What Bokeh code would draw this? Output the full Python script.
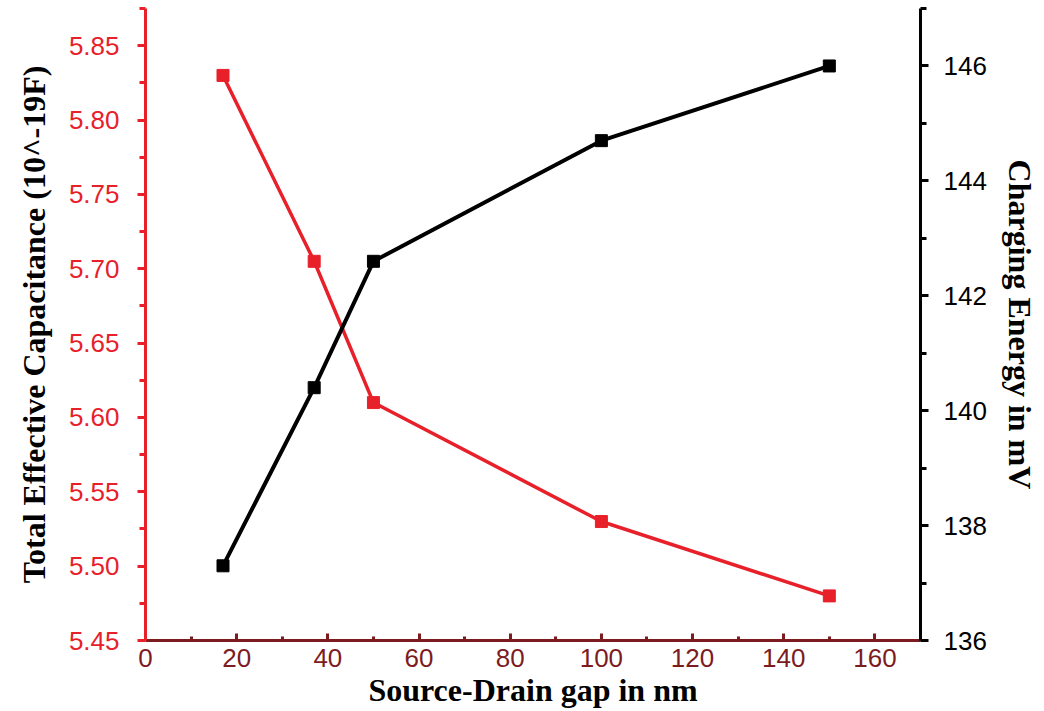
from bokeh.plotting import figure
from bokeh.models import LinearAxis, Range1d, FixedTicker, PrintfTickFormatter
from bokeh.embed import file_html
from bokeh.resources import INLINE

# Source-drain gap (nm)
gap_nm = [17, 37, 50, 100, 150]
# Total effective capacitance (10^-19 F)
capacitance = [5.83, 5.705, 5.61, 5.53, 5.48]
# Charging energy (mV)
charging_mv = [137.3, 140.4, 142.6, 144.7, 146.0]

x_ticks = [0, 20, 40, 60, 80, 100, 120, 140, 160]
x_minor = [10, 30, 50, 70, 90, 110, 130, 150, 170]
cap_ticks = [5.45, 5.50, 5.55, 5.60, 5.65, 5.70, 5.75, 5.80, 5.85]
cap_minor = [5.475, 5.525, 5.575, 5.625, 5.675, 5.725, 5.775, 5.825, 5.875]
en_ticks = [136, 138, 140, 142, 144, 146]
en_minor = [137, 139, 141, 143, 145, 147]

RED = "#e8202a"
DARKRED = "#7d1c1f"
BLACK = "#000000"
TICK_FONT = "Liberation Sans"
TITLE_FONT = "Liberation Serif"
TICK_SIZE = "26px"
TITLE_SIZE = "32px"

p = figure(
    width=1044, height=711,
    x_range=Range1d(0, 170), y_range=Range1d(5.45, 5.875),
    output_backend="svg", toolbar_location=None,
    min_border_left=145, min_border_right=124,
    min_border_top=8, min_border_bottom=71,
)
p.outline_line_color = None
p.grid.visible = False
p.background_fill_color = "white"
p.border_fill_color = "white"

p.extra_y_ranges = {"energy": Range1d(136, 147)}


def style_axis(ax, color, label_color, tick_in, tick_out, minor_in, minor_out, standoff):
    ax.axis_line_color = color
    ax.axis_line_width = 3
    ax.major_tick_line_color = color
    ax.minor_tick_line_color = color
    ax.major_tick_line_width = 3
    ax.minor_tick_line_width = 3
    ax.major_tick_in = tick_in
    ax.major_tick_out = tick_out
    ax.minor_tick_in = minor_in
    ax.minor_tick_out = minor_out
    ax.major_label_text_color = label_color
    ax.major_label_text_font = TICK_FONT
    ax.major_label_text_font_size = TICK_SIZE
    ax.major_label_standoff = standoff
    ax.axis_label_text_font = TITLE_FONT
    ax.axis_label_text_font_style = "bold"
    ax.axis_label_text_font_size = TITLE_SIZE
    ax.axis_label_text_color = BLACK


# bottom axis: ticks point into the plot
xa = p.xaxis[0]
xa.ticker = FixedTicker(ticks=x_ticks, minor_ticks=x_minor)
style_axis(xa, DARKRED, DARKRED, 7, 0, 4, 0, 8)
xa.axis_label = "Source-Drain gap in nm"
xa.axis_label_standoff = 2

# left axis (capacitance)
ya = p.yaxis[0]
ya.ticker = FixedTicker(ticks=cap_ticks, minor_ticks=cap_minor)
ya.formatter = PrintfTickFormatter(format="%.2f")
style_axis(ya, RED, RED, 0, 8, 0, 6, 18)
ya.axis_label = "Total Effective Capacitance (10^-19F)"
ya.axis_label_standoff = 14

# right axis (charging energy)
ra = LinearAxis(y_range_name="energy")
ra.ticker = FixedTicker(ticks=en_ticks, minor_ticks=en_minor)
style_axis(ra, BLACK, BLACK, 0, 8, 0, 6, 15)
ra.axis_label = "Charging Energy in mV"
ra.axis_label_standoff = 12
p.add_layout(ra, "right")

# capacitance series
p.line(gap_nm, capacitance, line_color=RED, line_width=3.5)
p.scatter(gap_nm, capacitance, marker="square", size=12,
          fill_color=RED, line_color=RED)

# charging-energy series
p.line(gap_nm, charging_mv, line_color=BLACK, line_width=4,
       y_range_name="energy")
p.scatter(gap_nm, charging_mv, marker="square", size=12,
          fill_color=BLACK, line_color=BLACK, y_range_name="energy")

open("out.html", "w").write(file_html(p, INLINE))
